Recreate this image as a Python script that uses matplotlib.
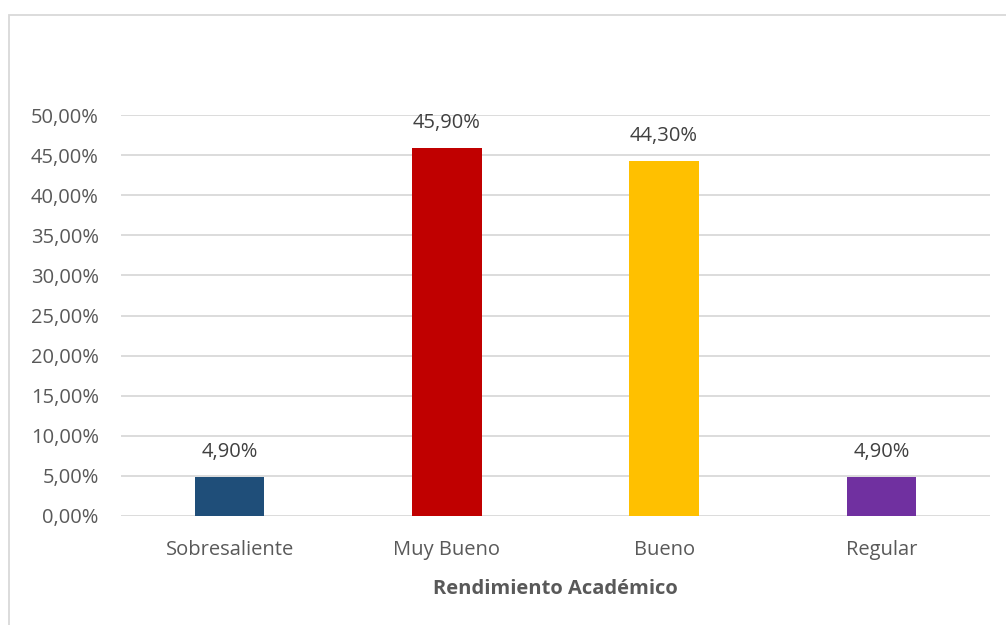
import matplotlib.pyplot as plt
from matplotlib.patches import Rectangle

categories = ["Sobresaliente", "Muy Bueno", "Bueno", "Regular"]
values = [4.90, 45.90, 44.30, 4.90]
colors = ["#1F4E79", "#C00000", "#FFC000", "#7030A0"]
yticks = [0, 5, 10, 15, 20, 25, 30, 35, 40, 45, 50]

plt.rcParams["font.family"] = ["Open Sans", "DejaVu Sans"]
text_color = "#595959"
fs = 14.5

fig = plt.figure(figsize=(10.06, 6.25), dpi=100)
ax = fig.add_axes([121 / 1006, 1 - 516 / 625, 869 / 1006, 401 / 625])

x = range(len(categories))
ax.bar(x, values, width=0.32, color=colors, zorder=3)

for xi, v in zip(x, values):
    ax.text(xi, v + 1.8, f"{v:.2f}%".replace(".", ","), ha="center", va="bottom",
            fontsize=fs, color="#404040")

ax.set_xlim(-0.5, 3.5)
ax.set_ylim(0, 50)
ax.set_yticks(yticks)
ax.set_yticklabels([f"{t:.2f}%".replace(".", ",") for t in yticks])
ax.set_xticks(list(x))
ax.set_xticklabels(categories)
ax.tick_params(length=0, labelsize=fs, colors=text_color)
ax.tick_params(axis="y", pad=16)
ax.tick_params(axis="x", pad=17)

ax.grid(axis="y", color="#D9D9D9", linewidth=1.3, zorder=0)
for s in ax.spines.values():
    s.set_visible(False)

ax.set_xlabel("Rendimiento Académico", fontsize=fs, fontweight="bold",
              color=text_color, labelpad=14)

# chart-area frame
fig.patches.append(Rectangle((9 / 1006, -0.1), 1.2, 1 - 15 / 625 + 0.1,
                             transform=fig.transFigure, fill=False,
                             edgecolor="#D9D9D9", linewidth=1.3))

fig.savefig("out.png", dpi=100)
